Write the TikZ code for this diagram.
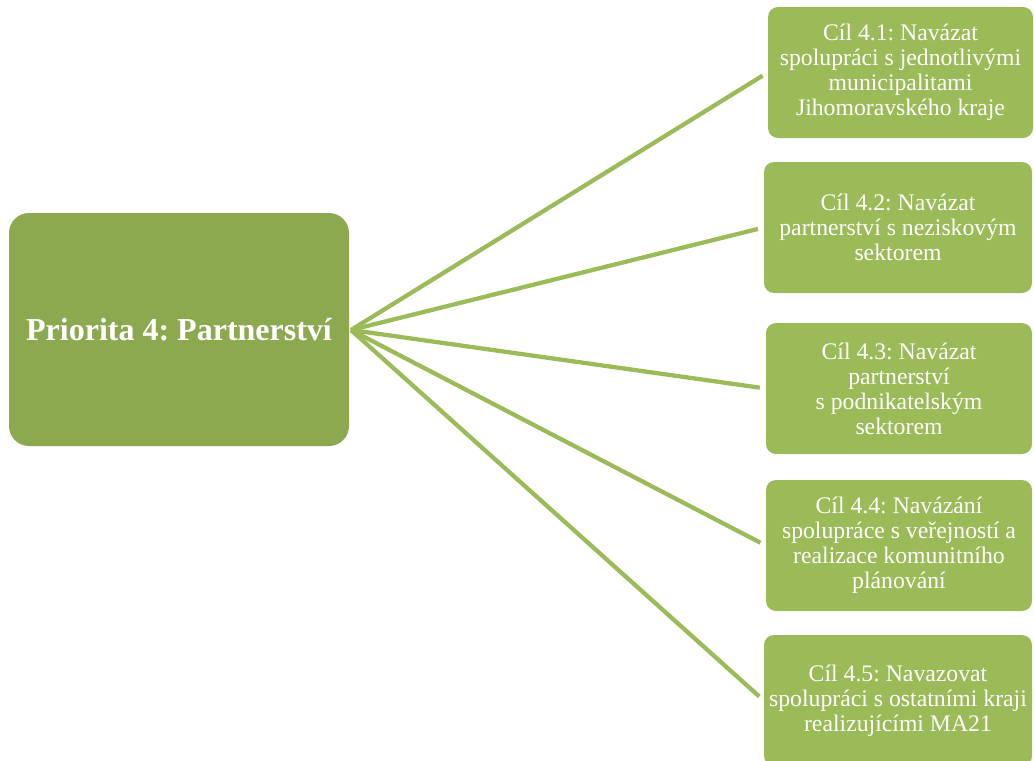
\documentclass[tikz,border=0pt]{standalone}
\usepackage{fontspec}
\setmainfont{Liberation Serif}
\frenchspacing
\definecolor{mainc}{HTML}{8DA950}
\definecolor{goalc}{HTML}{9BBB59}
\begin{document}
\begin{tikzpicture}[x=0.75pt,y=-0.75pt,
  mainbox/.style={fill=mainc, draw=none, rounded corners=15pt, minimum width=255pt, minimum height=174.75pt, inner sep=0pt, text=white, font=\bfseries\fontsize{24pt}{28pt}\selectfont},
  goalbox/.style={fill=goalc, draw=none, rounded corners=7.5pt, minimum height=98.25pt, inner sep=0pt, text=white, align=center, font=\fontsize{17.8pt}{18.75pt}\selectfont},
  link/.style={draw=goalc, line width=3.2pt, shorten >=4.5pt}]
\useasboundingbox (0,0) rectangle (1034,760);
\node[mainbox] (p) at (179,329.5) {Priorita 4: Partnerství};
\node[goalbox, minimum width=198.75pt] (g1) at (900.5,72.5) {Cíl 4.1: Navázat\\spolupráci s jednotlivými\\municipalitami\\Jihomoravského kraje};
\node[goalbox, minimum width=201pt] (g2) at (898,227.5) {Cíl 4.2: Navázat\\partnerství s neziskovým\\sektorem};
\node[goalbox, minimum width=199.5pt] (g3) at (899,388.5) {Cíl 4.3: Navázat\\partnerství\\s podnikatelským\\sektorem};
\node[goalbox, minimum width=199.5pt] (g4) at (899,545.5) {Cíl 4.4: Navázání\\spolupráce s veřejností a\\realizace komunitního\\plánování};
\node[goalbox, minimum width=201pt] (g5) at (898,700.5) {Cíl 4.5: Navazovat\\spolupráci s ostatními kraji\\realizujícími MA21};
\coordinate (hub) at (351,330);
\foreach \g in {g1,g2,g3,g4,g5}
  \draw[link] (hub) -- (\g.west);
\end{tikzpicture}
\end{document}
